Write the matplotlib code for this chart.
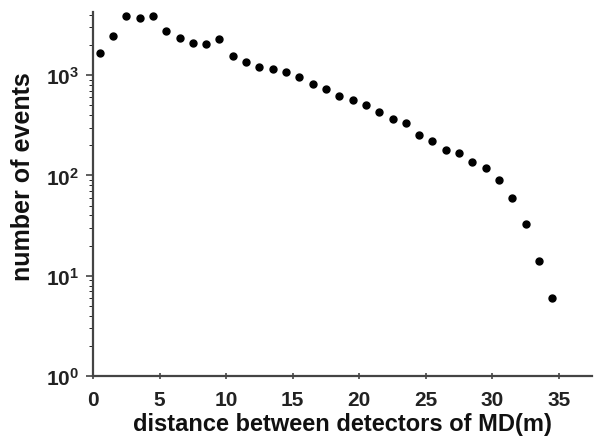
import numpy as np
import matplotlib
matplotlib.use("Agg")
import matplotlib.pyplot as plt

plt.rcParams['font.family'] = ['Liberation Sans', 'DejaVu Sans']
plt.rcParams['font.weight'] = 'bold'

# distance (m) and event counts
distance = [0.5, 1.5, 2.5, 3.5, 4.5, 5.5, 6.5, 7.5, 8.5, 9.5,
            10.5, 11.5, 12.5, 13.5, 14.5, 15.5, 16.5, 17.5, 18.5, 19.5,
            20.5, 21.5, 22.5, 23.5, 24.5, 25.5, 26.5, 27.5, 28.5, 29.5,
            30.5, 31.5, 32.5, 33.5, 34.5]
events = [1680, 2465, 3850, 3700, 3900, 2730, 2340, 2080, 2070, 2270,
          1540, 1360, 1210, 1150, 1065, 950, 820, 725, 622, 567,
          506, 431, 370, 332, 254, 221, 180, 166, 137, 119,
          91, 60, 33, 14.2, 6.0]
xticks = [0, 5, 10, 15, 20, 25, 30, 35]

fig = plt.figure(figsize=(6.0, 4.39), dpi=100)
ax = fig.add_axes([0.155, 0.141, 0.832, 0.829])
ax.semilogy(distance, events, 'o', color='black', markersize=5)

ax.set_xlim(0, 37.5)
ax.set_ylim(1, 4250)
ax.set_xticks(xticks)
ax.tick_params(axis='both', labelsize=15, width=1.2, color='#444444',
               labelcolor='#222222')
ax.tick_params(axis='x', length=4, direction='inout', pad=8)
ax.tick_params(axis='y', which='major', length=5, pad=5)
ax.tick_params(axis='y', which='minor', length=3)

for s in ['top', 'right']:
    ax.spines[s].set_visible(False)
for s in ['left', 'bottom']:
    ax.spines[s].set_linewidth(1.6)
    ax.spines[s].set_color('#444444')

ax.set_xlabel('distance between detectors of MD(m)', fontsize=17,
              fontweight='bold', color='#111111')
ax.set_ylabel('number of events', fontsize=18, fontweight='bold',
              color='#111111')
ax.yaxis.set_label_coords(-0.117, 0.552)
ax.xaxis.set_label_coords(0.5, -0.1)

fig.savefig('out.png', dpi=100)
